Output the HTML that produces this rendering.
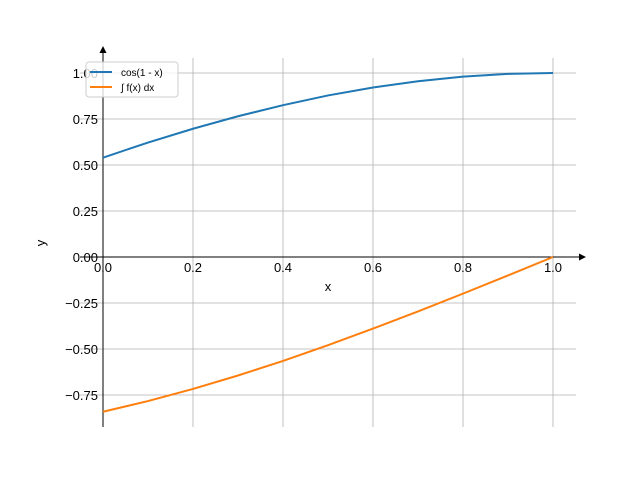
<!DOCTYPE html>
<html><head><meta charset="utf-8"><style>
body{margin:0;background:#fff;}
svg{display:block;font-family:"Liberation Sans","DejaVu Sans",sans-serif;}
</style></head><body>
<svg id="c" width="640" height="480" viewBox="0 0 640 480"></svg>
<script>
const xTicks=[0,0.2,0.4,0.6,0.8,1.0];
const xTickLabels=["0.0","0.2","0.4","0.6","0.8","1.0"];
const yTicks=[-0.75,-0.5,-0.25,0,0.25,0.5,0.75,1.0];
const yTickLabels=["\u22120.75","\u22120.50","\u22120.25","0.00","0.25","0.50","0.75","1.00"];
const xs=[0,0.1,0.2,0.3,0.4,0.5,0.6,0.7,0.8,0.9,1.0];
const cosSeries=[0.540,0.622,0.697,0.765,0.825,0.878,0.921,0.955,0.980,0.995,1.0];
const intSeries=[-0.841,-0.783,-0.717,-0.644,-0.565,-0.479,-0.389,-0.296,-0.199,-0.100,0];
const seriesNames=["cos(1 - x)","\u222b f(x) dx"];

const X=v=>103+v*450, Y=v=>257-v*184;
const svg=document.getElementById('c');
const NS='http://www.w3.org/2000/svg';
function mk(tag,attrs,parent){const e=document.createElementNS(NS,tag);for(const k in attrs)e.setAttribute(k,attrs[k]);(parent||svg).appendChild(e);return e;}

// grid
xTicks.forEach((t,i)=>{
  const g=mk('line',{x1:X(t),x2:X(t),y1:58,y2:427,stroke:'#b0b0b0','stroke-width':0.8});
  
  
});
yTicks.forEach(t=>{
  const g=mk('line',{x1:80,x2:576,y1:Y(t),y2:Y(t),stroke:'#b0b0b0','stroke-width':0.8});
  
  
});
// axes
const xa=mk('line',{x1:80,x2:580,y1:Y(0),y2:Y(0),stroke:'#000','stroke-width':1});


mk('polygon',{points:`586,${Y(0)} 579,${Y(0)-3.5} 579,${Y(0)+3.5}`,fill:'#000'});
const ya=mk('line',{x1:103,x2:103,y1:427,y2:52,stroke:'#000','stroke-width':1});


mk('polygon',{points:`103,46 99.5,53 106.5,53`,fill:'#000'});
// tick labels
xTicks.forEach((t,i)=>{
  const tx=mk('text',{x:X(t),y:272,'font-size':13,'text-anchor':'middle',fill:'#000'});
  tx.textContent=xTickLabels[i];
  
  
});
yTicks.forEach((t,i)=>{
  const tx=mk('text',{x:98,y:Y(t)+5,'font-size':13,'text-anchor':'end',fill:'#000'});
  tx.textContent=yTickLabels[i];
  
  
});
const xl=mk('text',{x:328,y:291,'font-size':13,'text-anchor':'middle'});xl.textContent='x';


const yl=mk('text',{x:45,y:243,'font-size':13,'text-anchor':'middle',transform:'rotate(-90 45 243)'});yl.textContent='y';


// series
function pathOf(vals){return vals.map((v,i)=>(i?'L':'M')+X(xs[i]).toFixed(2)+','+Y(v).toFixed(2)).join(' ');}
const p1=mk('path',{d:pathOf(cosSeries),fill:'none',stroke:'#1f77b4','stroke-width':2});


const p2=mk('path',{d:pathOf(intSeries),fill:'none',stroke:'#ff7f0e','stroke-width':2});


// legend
const lg=mk('g',{});


mk('rect',{x:86,y:62,width:92,height:35,rx:3,fill:'#fff','fill-opacity':0.8,stroke:'#ccc','stroke-width':1},lg);
['#1f77b4','#ff7f0e'].forEach((c,i)=>{
  const yy=72+i*15;
  mk('line',{x1:90,x2:112,y1:yy,y2:yy,stroke:c,'stroke-width':2},lg);
  const t=mk('text',{x:121,y:yy+4,'font-size':10},lg);
  t.textContent=seriesNames[i];
  
  
});
</script>
</body></html>
